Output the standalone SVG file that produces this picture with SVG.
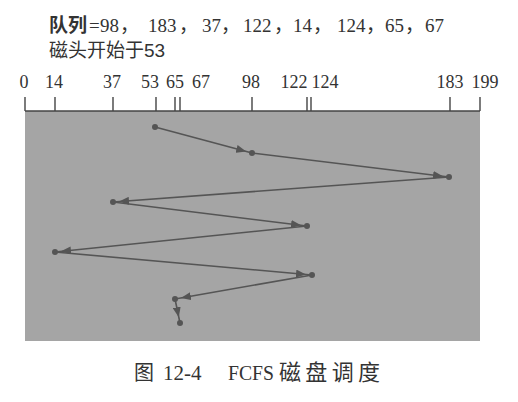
<svg xmlns="http://www.w3.org/2000/svg" width="518" height="402" viewBox="0 0 518 402">
<style>
.cjk{font-family:"Noto Sans CJK SC","Liberation Sans",sans-serif;fill:#333}
.num{font-family:"Liberation Serif","Noto Sans CJK SC",serif;fill:#333}
.lbl{font-family:"Liberation Serif",serif;font-size:18px;fill:#333;text-anchor:middle}
.tick{stroke:#444;stroke-width:1.4}
.seg{stroke:#555;stroke-width:1.6;fill:none;marker-end:url(#arr)}
.pt{fill:#555}
</style>
<defs>
<marker id="arr" viewBox="0 0 10 8" refX="16" refY="4" markerWidth="10" markerHeight="8" markerUnits="userSpaceOnUse" orient="auto">
<path d="M0,0 L10,4 L0,8 Z" fill="#555"/>
</marker>
</defs>
<rect width="518" height="402" fill="#ffffff"/>
<g id="title">
<text y="32" font-size="19"><tspan x="49" class="cjk" font-weight="bold">队列</tspan><tspan x="89" class="num">=</tspan><tspan x="100" class="num">98</tspan><tspan x="120" class="cjk">，</tspan><tspan x="148" class="num">183</tspan><tspan x="179" class="cjk">，</tspan><tspan x="202" class="num">37</tspan><tspan x="221" class="cjk">，</tspan><tspan x="243" class="num">122</tspan><tspan x="274" class="cjk">，</tspan><tspan x="293" class="num">14</tspan><tspan x="313" class="cjk">，</tspan><tspan x="337" class="num">124</tspan><tspan x="366" class="cjk">，</tspan><tspan x="385" class="num">65</tspan><tspan x="405" class="cjk">，</tspan><tspan x="425" class="num">67</tspan></text>
<text x="49" y="57" class="cjk" font-size="19">磁头开始于<tspan font-family="Liberation Sans,sans-serif" font-size="19">53</tspan></text>
</g>
<g id="chart">
<rect x="25" y="111" width="455" height="230" fill="#a5a5a5"/>
<line x1="25" y1="111" x2="480" y2="111" class="tick"/>
<g id="ticks">
<line x1="25" y1="97" x2="25" y2="111" class="tick"/>
<line x1="55" y1="97" x2="55" y2="111" class="tick"/>
<line x1="113" y1="97" x2="113" y2="111" class="tick"/>
<line x1="156" y1="97" x2="156" y2="111" class="tick"/>
<line x1="175" y1="97" x2="175" y2="111" class="tick"/>
<line x1="180" y1="97" x2="180" y2="111" class="tick"/>
<line x1="252" y1="97" x2="252" y2="111" class="tick"/>
<line x1="307" y1="97" x2="307" y2="111" class="tick"/>
<line x1="311" y1="97" x2="311" y2="111" class="tick"/>
<line x1="450" y1="97" x2="450" y2="111" class="tick"/>
<line x1="480" y1="97" x2="480" y2="111" class="tick"/>
</g>
<g id="labels">
<text x="24" y="88" class="lbl">0</text>
<text x="54" y="88" class="lbl">14</text>
<text x="112" y="88" class="lbl">37</text>
<text x="150" y="88" class="lbl">53</text>
<text x="175" y="88" class="lbl">65</text>
<text x="201" y="88" class="lbl">67</text>
<text x="251" y="88" class="lbl">98</text>
<text x="294" y="88" class="lbl">122</text>
<text x="325" y="88" class="lbl">124</text>
<text x="450" y="88" class="lbl">183</text>
<text x="485" y="88" class="lbl">199</text>
</g>
</g>
<g id="connectors">
<line x1="155" y1="127" x2="252" y2="153" class="seg"/>
<line x1="252" y1="153" x2="449" y2="177" class="seg"/>
<line x1="449" y1="177" x2="113" y2="202" class="seg"/>
<line x1="113" y1="202" x2="307" y2="226" class="seg"/>
<line x1="307" y1="226" x2="55" y2="252" class="seg"/>
<line x1="55" y1="252" x2="312" y2="275" class="seg"/>
<line x1="312" y1="275" x2="175" y2="299" class="seg"/>
<line x1="175" y1="299" x2="180" y2="323" class="seg"/>
</g>
<g id="points">
<circle cx="155" cy="127" r="3" class="pt"/>
<circle cx="252" cy="153" r="3" class="pt"/>
<circle cx="449" cy="177" r="3" class="pt"/>
<circle cx="113" cy="202" r="3" class="pt"/>
<circle cx="307" cy="226" r="3" class="pt"/>
<circle cx="55" cy="252" r="3" class="pt"/>
<circle cx="312" cy="275" r="3" class="pt"/>
<circle cx="175" cy="299" r="3" class="pt"/>
<circle cx="180" cy="323" r="3" class="pt"/>
</g>
<g id="caption">
<text x="134" y="380" class="cjk" font-size="20">图</text>
<text x="163" y="380" class="num" font-size="21">12-4</text>
<text x="228" y="380" class="num" font-size="21" textLength="46" lengthAdjust="spacingAndGlyphs">FCFS</text>
<text x="279" y="380" class="cjk" font-size="22" textLength="101" lengthAdjust="spacing">磁盘调度</text>
</g>
</svg>
